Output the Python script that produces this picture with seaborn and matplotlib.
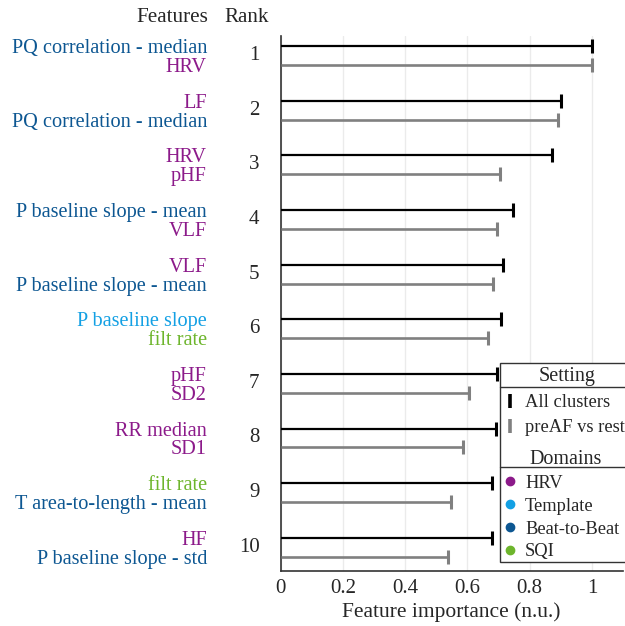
import numpy as np
import pandas as pd
import seaborn as sns
import matplotlib.pyplot as plt
from matplotlib.lines import Line2D
from matplotlib.patches import Rectangle

sns.set_theme(style="whitegrid")
plt.rcParams['font.family'] = ['Liberation Serif', 'DejaVu Serif']

ranks = [1, 2, 3, 4, 5, 6, 7, 8, 9, 10]
feat_all = ["PQ correlation - median", "LF", "HRV", "P baseline slope - mean", "VLF",
            "P baseline slope", "pHF", "RR median", "filt rate", "HF"]
dom_all = ["Beat-to-Beat", "HRV", "HRV", "Beat-to-Beat", "HRV",
           "Template", "HRV", "HRV", "SQI", "HRV"]
imp_all = [1.0, 0.90, 0.872, 0.748, 0.715, 0.708, 0.695, 0.691, 0.679, 0.679]

feat_pre = ["HRV", "PQ correlation - median", "pHF", "VLF", "P baseline slope - mean",
            "filt rate", "SD2", "SD1", "T area-to-length - mean", "P baseline slope - std"]
dom_pre = ["HRV", "Beat-to-Beat", "HRV", "HRV", "Beat-to-Beat",
           "SQI", "HRV", "HRV", "Beat-to-Beat", "Beat-to-Beat"]
imp_pre = [1.0, 0.892, 0.706, 0.694, 0.681, 0.666, 0.607, 0.585, 0.548, 0.538]

domain_colors = {"HRV": "#8c1a8a", "Template": "#13a0e4",
                 "Beat-to-Beat": "#0d5792", "SQI": "#6db52c"}
setting_colors = {"All clusters": "black", "preAF vs rest": "#808080"}

off = 0.173
df = pd.concat([
    pd.DataFrame({"rank": ranks, "feature": feat_all, "domain": dom_all,
                  "importance": imp_all, "setting": "All clusters",
                  "pos": np.array(ranks) - off}),
    pd.DataFrame({"rank": ranks, "feature": feat_pre, "domain": dom_pre,
                  "importance": imp_pre, "setting": "preAF vs rest",
                  "pos": np.array(ranks) + off}),
], ignore_index=True)

fig = plt.figure(figsize=(6.25, 6.26), dpi=100)
ax = fig.add_axes([280.5 / 625, 1 - 571 / 626, (623 - 280.5) / 625, (571 - 36) / 626])

for setting, lw in [("All clusters", 1.6), ("preAF vs rest", 1.9)]:
    sub = df[df["setting"] == setting]
    ax.hlines(sub["pos"], 0, sub["importance"], color=setting_colors[setting], lw=lw, zorder=3)
    sns.scatterplot(data=sub, x="importance", y="pos", marker="|", s=110,
                    color=setting_colors[setting], linewidth=2.2, ax=ax, zorder=4,
                    legend=False)

ax.set_xlim(0, 1.1)
ax.set_ylim(10.435, 0.643)
ax.set_xticks([0, 0.2, 0.4, 0.6, 0.8, 1])
ax.set_xticklabels(["0", "0.2", "0.4", "0.6", "0.8", "1"])
ax.tick_params(axis="x", labelsize=15, length=0, pad=6, colors="#262626")
ax.set_xlabel("Feature importance (n.u.)", fontsize=15.5, color="#262626", labelpad=3)
ax.set_ylabel("")

ax.set_yticks(df["pos"])
ax.set_yticklabels(df["feature"])
for lab, dom in zip(ax.get_yticklabels(), df["domain"]):
    lab.set_color(domain_colors[dom])
ax.tick_params(axis="y", labelsize=14.6, length=0, pad=53)

ax.grid(axis="y", visible=False)
ax.grid(axis="x", color="#ebebeb", lw=1)
for s in ["top", "right"]:
    ax.spines[s].set_visible(False)
for s in ["left", "bottom"]:
    ax.spines[s].set_color("#333333")
    ax.spines[s].set_linewidth(1.2)

# rank numbers
for r in ranks:
    ax.text(-0.061, r, str(r), transform=ax.get_yaxis_transform(), ha="right",
            va="center", fontsize=15, color="#262626")
fig.text(208 / 625, 1 - 18 / 626, "Features", ha="right", va="center", fontsize=15.2, color="#262626")
fig.text(247 / 625, 1 - 18 / 626, "Rank", ha="center", va="center", fontsize=15.2, color="#262626")

# legend frame with two sections
W, H = 625, 626
fx = lambda px: px / W
fy = lambda py: 1 - py / H
fig.patches.append(Rectangle((fx(500), fy(562)), fx(630) - fx(500), fy(363) - fy(562),
                             transform=fig.transFigure, fill=True, facecolor="white",
                             edgecolor="#333333", lw=1.0, zorder=5))
for yy in [386.7, 467.3]:
    fig.lines.append(Line2D([fx(500), fx(630)], [fy(yy), fy(yy)], transform=fig.transFigure,
                            color="#333333", lw=1.0, zorder=6))

set_handles = [Line2D([], [], color=c, marker="|", ls="", markersize=10, markeredgewidth=2.6)
               for c in setting_colors.values()]
leg1 = fig.legend(set_handles, list(setting_colors.keys()), title="Setting",
                  loc="upper left", bbox_to_anchor=(fx(500), fy(364)), frameon=False,
                  fontsize=13.3, title_fontsize=14.5, handlelength=0.8, handletextpad=0.4,
                  borderpad=0.15, labelspacing=0.45, borderaxespad=0)
dom_handles = [Line2D([], [], color=c, marker="o", ls="", markersize=6)
               for c in domain_colors.values()]
leg2 = fig.legend(dom_handles, list(domain_colors.keys()), title="Domains",
                  loc="upper left", bbox_to_anchor=(fx(500), fy(447)), frameon=False,
                  fontsize=13.3, title_fontsize=14.5, handlelength=0.8, handletextpad=0.4,
                  borderpad=0.15, labelspacing=0.32, borderaxespad=0)
for leg in (leg1, leg2):
    leg.set_zorder(7)
    leg._legend_box.align = "left"
    leg.get_title().set_color("#262626")
    for t in leg.get_texts():
        t.set_color("#262626")
leg1.get_title().set_position((36, 0))
leg2.get_title().set_position((27, 0))

fig.savefig("out.png", dpi=100)
